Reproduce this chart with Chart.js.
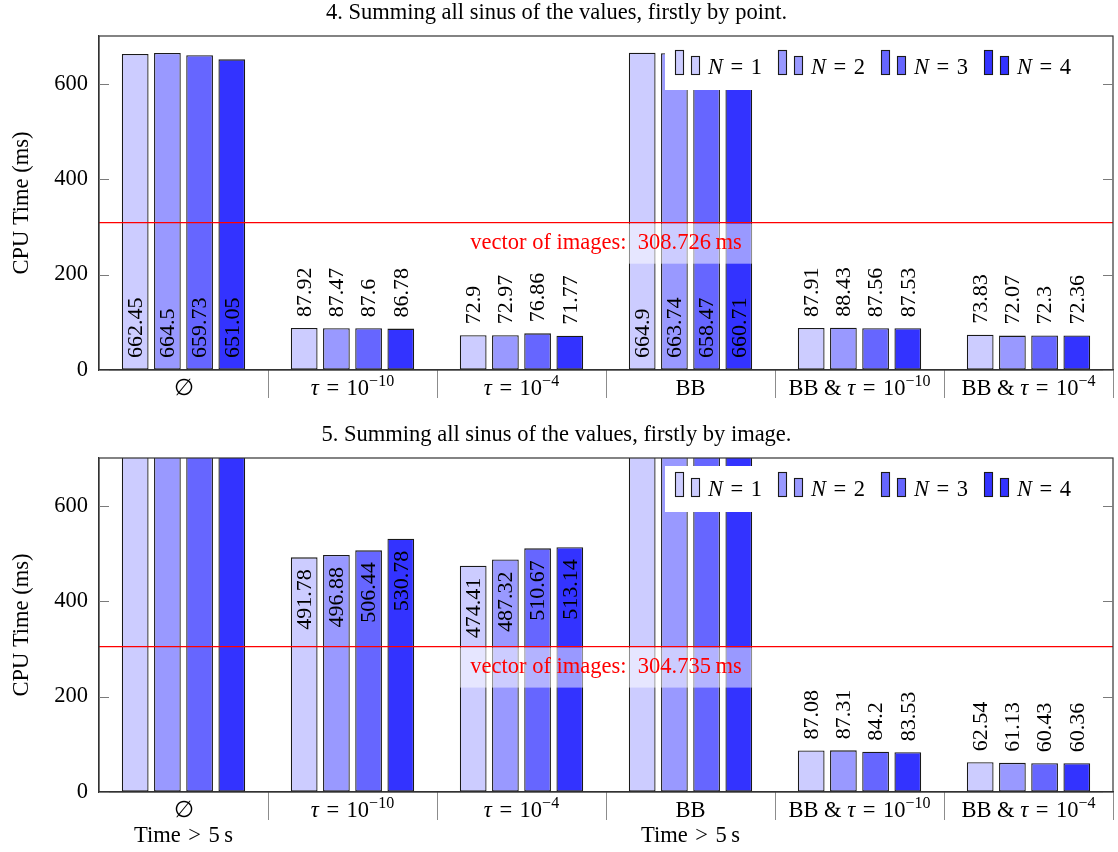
<!DOCTYPE html>
<html>
<head>
<meta charset="utf-8">
<script src="https://cdn.jsdelivr.net/npm/chart.js@4.4.1/dist/chart.umd.min.js"></script>
<style>
  html, body { margin: 0; padding: 0; background: #ffffff; }
  #page { position: relative; width: 1118px; height: 852px; }
  .panel { position: absolute; left: 0; width: 1118px; }
</style>
</head>
<body>
<div id="page">
  <div class="panel" style="top:0;height:422px"><canvas id="byPoint"></canvas></div>
  <div class="panel" style="top:422px;height:430px"><canvas id="byImage"></canvas></div>
</div>
<script>
// ---- data ---------------------------------------------------------------
const categories = ['\u2205', '\u03c4\u2004=\u200410^{\u221210}', '\u03c4\u2004=\u200410^{\u22124}', 'BB',
                    'BB & \u03c4\u2004=\u200410^{\u221210}', 'BB & \u03c4\u2004=\u200410^{\u22124}'];
const seriesNames = ['N\u2004=\u20041', 'N\u2004=\u20042', 'N\u2004=\u20043', 'N\u2004=\u20044'];
const yTicks = [0, 200, 400, 600];

// runs that took longer than 5 s
const TIMEOUT_MS = 5000;

// 4. Summing all sinus of the values, firstly by point.
const pointN1 = [662.45, 87.92, 72.9, 664.9, 87.91, 73.83];
const pointN2 = [664.5, 87.47, 72.97, 663.74, 88.43, 72.07];
const pointN3 = [659.73, 87.6, 76.86, 658.47, 87.56, 72.3];
const pointN4 = [651.05, 86.78, 71.77, 660.71, 87.53, 72.36];
const pointVectorOfImages = 308.726;

// 5. Summing all sinus of the values, firstly by image.
const imageN1 = [TIMEOUT_MS, 491.78, 474.41, TIMEOUT_MS, 87.08, 62.54];
const imageN2 = [TIMEOUT_MS, 496.88, 487.32, TIMEOUT_MS, 87.31, 61.13];
const imageN3 = [TIMEOUT_MS, 506.44, 510.67, TIMEOUT_MS, 84.2, 60.43];
const imageN4 = [TIMEOUT_MS, 530.78, 513.14, TIMEOUT_MS, 83.53, 60.36];
const imageVectorOfImages = 304.735;
const imageNotes = ['Time\u2004>\u20045\u2009s', '', '', 'Time\u2004>\u20045\u2009s', '', ''];

// ---- styling ------------------------------------------------------------
const FONT = '"Liberation Serif", "DejaVu Serif", serif';
const FS = 22.5;       // general text
const FS_VALUE = 22;   // numbers written on / above bars
const seriesColors = ['#ccccff', '#9999ff', '#6666ff', '#3333ff'];
const Y_MAX = 700;

// small rich-text helper: italic math letters and ^{superscripts}
function richParts(text) {
  const parts = [];
  const re = /\^\{([^}]*)\}|([\u03c4N])|([^\u03c4N^]+)/g;
  let m;
  while ((m = re.exec(text))) {
    if (m[1] !== undefined) parts.push({ t: m[1], sup: true });
    else if (m[2]) parts.push({ t: m[2], it: true });
    else parts.push({ t: m[3] });
  }
  return parts;
}
function drawRich(ctx, text, x, y, size, align) {
  const parts = richParts(text);
  const fontOf = p => (p.it ? 'italic ' : '') + (p.sup ? Math.round(size * 0.72) : size) + 'px ' + FONT;
  let w = 0;
  parts.forEach(p => { ctx.font = fontOf(p); p.w = ctx.measureText(p.t).width; w += p.w; });
  let cx = align === 'center' ? x - w / 2 : x;
  ctx.textAlign = 'left';
  ctx.textBaseline = 'alphabetic';
  parts.forEach(p => {
    ctx.font = fontOf(p);
    ctx.fillText(p.t, cx, p.sup ? y - size * 0.42 : y);
    cx += p.w;
  });
}

// annotations drawn on top of the bars
const decorPlugin = {
  id: 'decor',
  afterDraw(chart, args, opts) {
    const ctx = chart.ctx;
    const area = chart.chartArea;
    const xs = chart.scales.x, ys = chart.scales.y;
    const refY = ys.getPixelForValue(opts.reference);
    ctx.save();

    // value labels, rotated
    ctx.fillStyle = '#000';
    ctx.font = FS_VALUE + 'px ' + FONT;
    ctx.textBaseline = 'middle';
    chart.data.datasets.forEach((ds, k) => {
      const meta = chart.getDatasetMeta(k);
      meta.data.forEach((bar, i) => {
        const v = ds.data[i];
        if (v > Y_MAX) return;
        const top = ys.getPixelForValue(v);
        const base = ys.getPixelForValue(0);
        let y, align;
        if (v <= opts.reference) { y = top - 11; align = 'left'; }
        else if (opts.inside === 'base') { y = base - 12; align = 'left'; }
        else { y = top + 12; align = 'right'; }
        ctx.save();
        ctx.translate(bar.x, y);
        ctx.rotate(-Math.PI / 2);
        ctx.textAlign = align;
        ctx.fillText(String(v), 0, 1);
        ctx.restore();
      });
    });

    // reference line for the vector-of-images variant
    ctx.strokeStyle = '#ff0000';
    ctx.lineWidth = 1.2;
    ctx.beginPath();
    ctx.moveTo(area.left, refY);
    ctx.lineTo(area.right, refY);
    ctx.stroke();
    const cx = (area.left + area.right) / 2;
    ctx.fillStyle = 'rgba(255,255,255,0.5)';
    ctx.fillRect(cx - 146, refY + 1, 292, 40);
    ctx.fillStyle = '#ff0000';
    ctx.font = FS + 'px ' + FONT;
    ctx.textAlign = 'center';
    ctx.textBaseline = 'middle';
    ctx.fillText('vector of images:\u2002' + opts.reference + '\u2009ms', cx, refY + 20);

    // legend box inside the plot
    const lx = area.right - 448, ly = area.top + 8;
    ctx.fillStyle = '#ffffff';
    ctx.fillRect(lx, ly, 430, 46);
    const iconBottom = ly + 30;
    chart.data.datasets.forEach((ds, k) => {
      const x0 = lx + 10 + k * 103;
      ctx.fillStyle = ds.backgroundColor;
      ctx.strokeStyle = '#1a1a1a';
      ctx.lineWidth = 1.1;
      ctx.fillRect(x0, iconBottom - 24, 8, 24);
      ctx.strokeRect(x0 + 0.5, iconBottom - 24 + 0.5, 8, 24);
      ctx.fillRect(x0 + 16, iconBottom - 18, 8, 18);
      ctx.strokeRect(x0 + 16.5, iconBottom - 18 + 0.5, 8, 18);
      ctx.fillStyle = '#000';
      drawRich(ctx, ds.label, x0 + 33, iconBottom, FS, 'left');
    });

    // plot frame and inward y ticks on both sides
    ctx.strokeStyle = '#333';
    ctx.lineWidth = 1.2;
    ctx.strokeRect(area.left, area.top, area.right - area.left, area.bottom - area.top);
    ctx.strokeStyle = '#7a7a7a';
    ctx.lineWidth = 1;
    ys.ticks.forEach(t => {
      const y = Math.round(ys.getPixelForValue(t.value)) + 0.5;
      ctx.beginPath();
      ctx.moveTo(area.left, y); ctx.lineTo(area.left + 10, y);
      ctx.moveTo(area.right - 10, y); ctx.lineTo(area.right, y);
      ctx.stroke();
    });

    // category labels and notes under the axis
    ctx.fillStyle = '#000';
    chart.data.labels.forEach((lab, i) => {
      const x = xs.getPixelForValue(i);
      drawRich(ctx, lab, x, area.bottom + 25, FS, 'center');
      const note = (opts.notes || [])[i];
      if (note) drawRich(ctx, note, x, area.bottom + 50, FS, 'center');
    });
    ctx.restore();
  }
};

function buildChart(id, title, series, reference, inside, notes) {
  const canvas = document.getElementById(id);
  const h = canvas.parentNode.clientHeight;
  return new Chart(canvas, {
    type: 'bar',
    data: {
      labels: categories,
      datasets: series.map((vals, k) => ({
        label: seriesNames[k],
        data: vals,
        backgroundColor: seriesColors[k],
        borderColor: '#1a1a1a',
        borderWidth: 1.3,
        borderSkipped: false,
        categoryPercentage: 0.762,
        barPercentage: 0.83,
        clip: 0
      }))
    },
    options: {
      responsive: true,
      maintainAspectRatio: false,
      animation: false,
      devicePixelRatio: 1,
      layout: { padding: { left: 0, right: 5, top: 0, bottom: h - 370 } },
      plugins: {
        legend: { display: false },
        tooltip: { enabled: false },
        title: {
          display: true,
          text: title,
          color: '#000',
          font: { family: FONT, size: FS, weight: 'normal', lineHeight: 1 },
          padding: { top: 1.75, bottom: 11.75 }
        },
        decor: { reference, inside, notes }
      },
      scales: {
        x: {
          offset: true,
          grid: {
            offset: true,
            drawOnChartArea: false,
            drawTicks: true,
            tickLength: 28,
            color: c => (c.index === 0 ? 'rgba(0,0,0,0)' : '#8c8c8c'),
            lineWidth: 1
          },
          border: { display: true, color: '#333', width: 1.2 },
          ticks: { display: false },
          afterFit: s => { s.height = 0; }
        },
        y: {
          min: 0,
          max: Y_MAX,
          afterBuildTicks: s => { s.ticks = yTicks.map(v => ({ value: v })); },
          ticks: { padding: 11, color: '#000', font: { family: FONT, size: FS } },
          grid: { drawOnChartArea: false, drawTicks: false },
          border: { display: true, color: '#333', width: 1.2 },
          title: {
            display: true,
            text: 'CPU Time (ms)',
            color: '#000',
            font: { family: FONT, size: FS },
            padding: { top: 9, bottom: 0 }
          },
          afterFit: s => { s.width = 99; }
        }
      }
    },
    plugins: [decorPlugin]
  });
}

buildChart('byPoint', '4. Summing all sinus of the values, firstly by point.',
  [pointN1, pointN2, pointN3, pointN4], pointVectorOfImages, 'base', null);
buildChart('byImage', '5. Summing all sinus of the values, firstly by image.',
  [imageN1, imageN2, imageN3, imageN4], imageVectorOfImages, 'top', imageNotes);
</script>
</body>
</html>
